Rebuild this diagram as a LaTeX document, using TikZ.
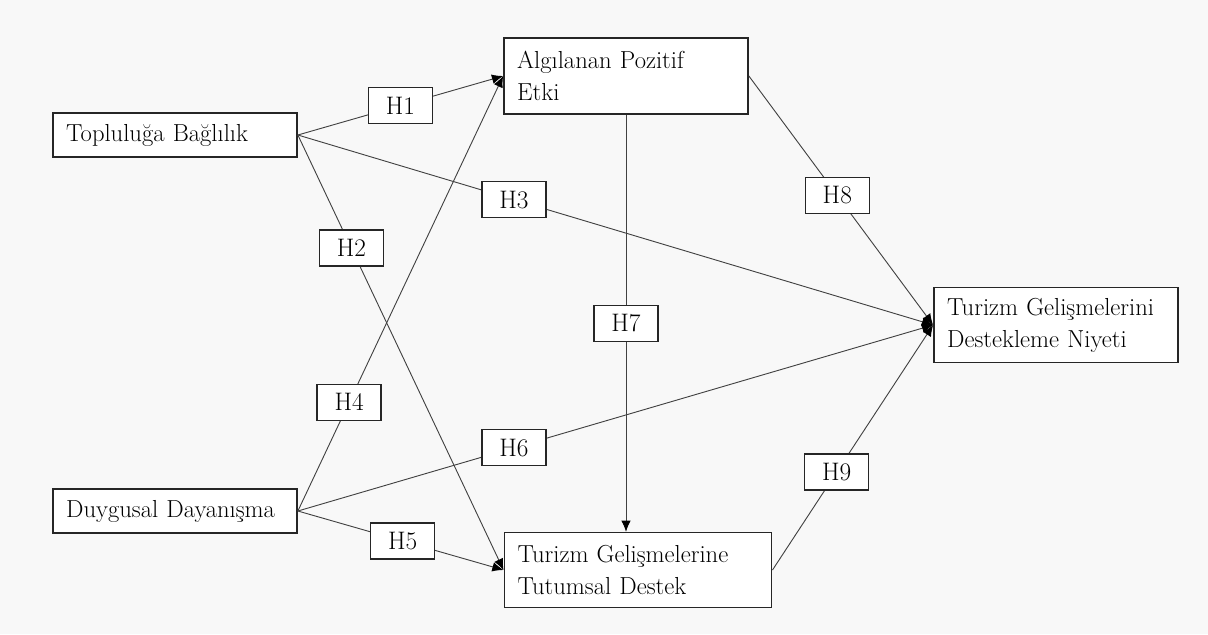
\documentclass[tikz,border=0pt]{standalone}
\usepackage{fontspec}
\usetikzlibrary{arrows.meta, positioning}
\definecolor{bggray}{RGB}{248,248,248}
\definecolor{linegray}{RGB}{65,65,65}
\tikzset{
  construct/.style={draw=black!85, line width=1.2pt, fill=white, inner xsep=0.33cm,
    align=left, text width=5.44cm, font=\fontsize{17.5}{22.7}\selectfont},
  hyp/.style={draw=black!85, line width=1pt, fill=white, minimum width=1.6cm,
    minimum height=0.9cm, inner sep=1pt, font=\fontsize{18}{20}\selectfont},
  rel/.style={->, draw=linegray, line width=0.65pt}
}

\begin{document}
\begin{tikzpicture}[>={Latex[length=2.8mm,width=2.4mm,color=black]}, x=0.025cm, y=-0.025cm]
\fill[bggray] (0,0) rectangle (1208,634);
\node[construct, minimum height=1.1cm] at (175,135) (A) {Topluluğa Bağlılık};
\node[construct, minimum height=1.1cm] at (175,511) (D) {Duygusal Dayanışma};
\node[construct, minimum height=1.9cm] at (626,76) (B) {Algılanan Pozitif\\Etki};
\node[construct, minimum height=1.87cm, text width=6.02cm] at (638,570) (E) {Turizm Gelişmelerine\\Tutumsal Destek};
\node[construct, minimum height=1.87cm] at (1056,325) (C) {Turizm Gelişmelerini\\Destekleme Niyeti};
% hypotheses
\draw[rel] (A.east) to node[hyp, pos=.5] (h1) {H1} (B.west);
\draw[rel] (A.east) to node[hyp, pos=.26] (h2) {H2} (E.west);
\draw[rel] (A.east) to node[hyp, pos=.34] (h3) {H3} (C.west);
\draw[rel] (D.east) to node[hyp, pos=.25] (h4) {H4} (B.west);
\draw[rel] (D.east) to node[hyp, pos=.51] (h5) {H5} (E.west);
\draw[rel] (D.east) to node[hyp, pos=.34] (h6) {H6} (C.west);
\draw[rel] (B.south) to node[hyp, pos=.5] (h7) {H7} (B.south |- E.north);
\draw[rel] (B.east) to node[hyp, pos=.48] (h8) {H8} (C.west);
\draw[rel] (E.east) to node[hyp, pos=.4] (h9) {H9} (C.west);
\end{tikzpicture}
\end{document}
